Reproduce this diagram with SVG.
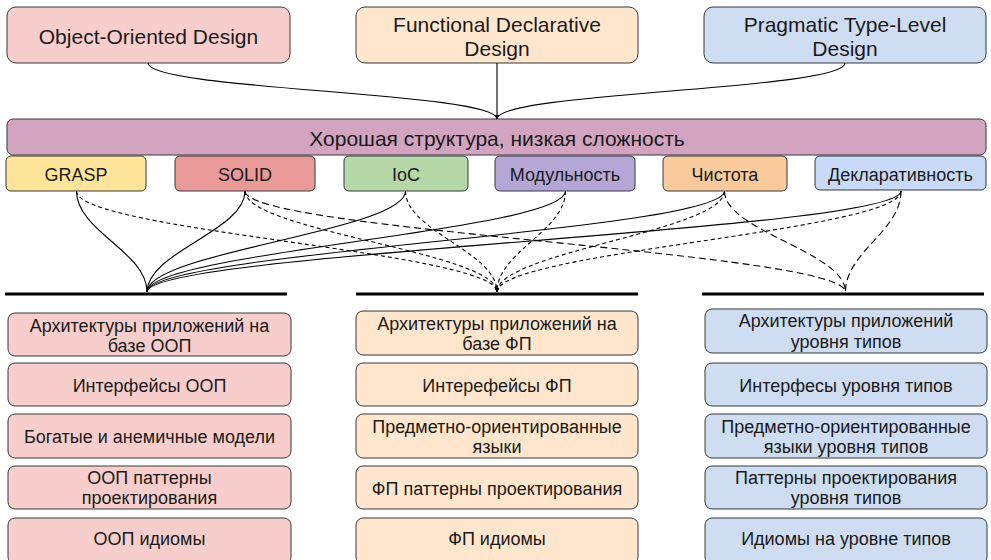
<svg xmlns="http://www.w3.org/2000/svg" width="991" height="560" viewBox="0 0 991 560">
  <style>
    .box { stroke: #36393d; stroke-width: 1; }
    .t { font-family: "Liberation Sans", Arial, sans-serif; fill: #1a1a1a; text-anchor: middle; }
    .big { font-size: 21px; }
    .mid { font-size: 18px; }
    .sm { font-size: 18px; }
    .edge { fill: none; stroke: #000; stroke-width: 1.1; }
    .dash { stroke-dasharray: 4 3; }
    .ldash { stroke-dasharray: 7 4; }
    .rule { stroke: #000; stroke-width: 3; }
    .oop { fill: #f8cecc; }
    .fp { fill: #ffe6cc; }
    .tl { fill: #cfddf2; }
  </style>
  <defs>
    <marker id="tip" viewBox="0 0 6 6" refX="6" refY="3" markerWidth="4" markerHeight="4" orient="auto" markerUnits="userSpaceOnUse">
      <path d="M0,0 L6,3 L0,6 Z" fill="#000"/>
    </marker>
  </defs>

  <!-- design approaches -->
  <g id="node-ood">
    <rect class="box oop" x="7" y="7" width="283" height="56" rx="9"/>
    <text class="t big" x="148.5" y="44">Object-Oriented Design</text>
  </g>
  <g id="node-fdd">
    <rect class="box fp" x="356" y="7" width="282" height="56" rx="9"/>
    <text class="t big" x="497" y="31.5">Functional Declarative</text>
    <text class="t big" x="497" y="56">Design</text>
  </g>
  <g id="node-ptld">
    <rect class="box tl" x="704" y="7" width="282" height="56" rx="9"/>
    <text class="t big" x="845" y="31.5">Pragmatic Type-Level</text>
    <text class="t big" x="845" y="56">Design</text>
  </g>

  <!-- common goal -->
  <g id="node-goal">
    <rect class="box" x="7" y="119" width="979" height="36" rx="6" fill="#d3a4bf"/>
    <text class="t big" x="497" y="145.5">Хорошая структура, низкая сложность</text>
  </g>

  <!-- principles -->
  <g id="node-grasp">
    <rect class="box" x="6" y="156" width="140" height="35" rx="5" fill="#ffe599"/>
    <text class="t mid" x="76" y="181">GRASP</text>
  </g>
  <g id="node-solid">
    <rect class="box" x="175" y="156" width="140" height="35" rx="5" fill="#ea9999"/>
    <text class="t mid" x="245" y="181">SOLID</text>
  </g>
  <g id="node-ioc">
    <rect class="box" x="344" y="156" width="124" height="35" rx="5" fill="#b6d7a8"/>
    <text class="t mid" x="406" y="181">IoC</text>
  </g>
  <g id="node-modularity">
    <rect class="box" x="495" y="156" width="140" height="35" rx="5" fill="#b4a7d6"/>
    <text class="t mid" x="565" y="181">Модульность</text>
  </g>
  <g id="node-purity">
    <rect class="box" x="663" y="156" width="124" height="35" rx="5" fill="#f9cb9c"/>
    <text class="t mid" x="725" y="181">Чистота</text>
  </g>
  <g id="node-declarative">
    <rect class="box" x="815" y="156" width="171" height="34" rx="5" fill="#c9daf8"/>
    <text class="t mid" x="900.5" y="181">Декларативность</text>
  </g>

  <!-- connectors -->
  <g id="connectors">
    <!-- approaches into the common goal -->
    <path class="edge" marker-end="url(#tip)" d="M148,63 C148,90 497,92 497,119"/>
    <path class="edge" marker-end="url(#tip)" d="M497,63 L497,119"/>
    <path class="edge" marker-end="url(#tip)" d="M845,63 C845,90 497,92 497,119"/>

    <!-- principles into OOP -->
    <path class="edge" d="M76.5,191 C76.5,231 147,252 147,292"/>
    <path class="edge" d="M245,191 C245,231 147,252 147,292"/>
    <path class="edge" d="M405.5,191 C405.5,231 147,252 147,292"/>
    <path class="edge" d="M565.5,191 C565.5,231 147,252 147,292"/>
    <path class="edge" d="M724.5,191 C724.5,231 147,252 147,292"/>
    <path class="edge" d="M901,191 C901,231 147,252 147,292"/>

    <!-- principles into FP -->
    <path class="edge dash" marker-end="url(#tip)" d="M76.5,191 C76.5,231 497,252 497,292"/>
    <path class="edge dash" marker-end="url(#tip)" d="M245,191 C245,231 497,252 497,292"/>
    <path class="edge dash" marker-end="url(#tip)" d="M405.5,191 C405.5,231 497,252 497,292"/>
    <path class="edge dash" marker-end="url(#tip)" d="M565.5,191 C565.5,231 497,252 497,292"/>
    <path class="edge dash" marker-end="url(#tip)" d="M724.5,191 C724.5,231 497,252 497,292"/>
    <path class="edge dash" marker-end="url(#tip)" d="M901,191 C901,231 497,252 497,292"/>

    <!-- principles into type-level design -->
    <path class="edge ldash" d="M245,191 C245,231 845.5,252 845.5,292"/>
    <path class="edge ldash" d="M724.5,191 C724.5,231 845.5,252 845.5,292"/>
    <path class="edge ldash" d="M901,191 C901,231 845.5,252 845.5,292"/>
  </g>

  <!-- column rules -->
  <g id="rules">
    <line class="rule" x1="5" y1="294" x2="287" y2="294"/>
    <line class="rule" x1="356" y1="294" x2="638" y2="294"/>
    <line class="rule" x1="702" y1="294" x2="984" y2="294"/>
  </g>

  <!-- OOP column -->
  <g id="node-oop-arch">
    <rect class="box oop" x="8" y="313" width="283" height="43" rx="7"/>
    <text class="t sm" x="149.5" y="331.5">Архитектуры приложений на</text>
    <text class="t sm" x="149.5" y="352">базе ООП</text>
  </g>
  <g id="node-oop-iface">
    <rect class="box oop" x="8" y="363" width="283" height="43" rx="7"/>
    <text class="t sm" x="149.5" y="392">Интерфейсы ООП</text>
  </g>
  <g id="node-oop-models">
    <rect class="box oop" x="8" y="414" width="283" height="44" rx="7"/>
    <text class="t sm" x="149.5" y="443">Богатые и анемичные модели</text>
  </g>
  <g id="node-oop-patterns">
    <rect class="box oop" x="8" y="466" width="283" height="43" rx="7"/>
    <text class="t sm" x="149.5" y="483.5">ООП паттерны</text>
    <text class="t sm" x="149.5" y="504">проектирования</text>
  </g>
  <g id="node-oop-idioms">
    <rect class="box oop" x="8" y="518" width="283" height="46" rx="7"/>
    <text class="t sm" x="149.5" y="545">ООП идиомы</text>
  </g>

  <!-- FP column -->
  <g id="node-fp-arch">
    <rect class="box fp" x="356" y="311" width="282" height="44" rx="7"/>
    <text class="t sm" x="497" y="329.5">Архитектуры приложений на</text>
    <text class="t sm" x="497" y="350">базе ФП</text>
  </g>
  <g id="node-fp-iface">
    <rect class="box fp" x="356" y="363" width="282" height="43" rx="7"/>
    <text class="t sm" x="497" y="392">Интерефейсы ФП</text>
  </g>
  <g id="node-fp-dsl">
    <rect class="box fp" x="356" y="414" width="282" height="44" rx="7"/>
    <text class="t sm" x="497" y="432.5">Предметно-ориентированные</text>
    <text class="t sm" x="497" y="453">языки</text>
  </g>
  <g id="node-fp-patterns">
    <rect class="box fp" x="356" y="466" width="282" height="43" rx="7"/>
    <text class="t sm" x="497" y="495">ФП паттерны проектирования</text>
  </g>
  <g id="node-fp-idioms">
    <rect class="box fp" x="356" y="518" width="282" height="46" rx="7"/>
    <text class="t sm" x="497" y="545">ФП идиомы</text>
  </g>

  <!-- type-level column -->
  <g id="node-tl-arch">
    <rect class="box tl" x="705" y="309" width="282" height="44" rx="7"/>
    <text class="t sm" x="846" y="327">Архитектуры приложений</text>
    <text class="t sm" x="846" y="347.5">уровня типов</text>
  </g>
  <g id="node-tl-iface">
    <rect class="box tl" x="705" y="363" width="282" height="43" rx="7"/>
    <text class="t sm" x="846" y="392">Интерфесы уровня типов</text>
  </g>
  <g id="node-tl-dsl">
    <rect class="box tl" x="705" y="414" width="282" height="44" rx="7"/>
    <text class="t sm" x="846" y="432.5">Предметно-ориентированные</text>
    <text class="t sm" x="846" y="453">языки уровня типов</text>
  </g>
  <g id="node-tl-patterns">
    <rect class="box tl" x="705" y="466" width="282" height="43" rx="7"/>
    <text class="t sm" x="846" y="483.5">Паттерны проектирования</text>
    <text class="t sm" x="846" y="504">уровня типов</text>
  </g>
  <g id="node-tl-idioms">
    <rect class="box tl" x="705" y="518" width="282" height="46" rx="7"/>
    <text class="t sm" x="846" y="545">Идиомы на уровне типов</text>
  </g>
</svg>
